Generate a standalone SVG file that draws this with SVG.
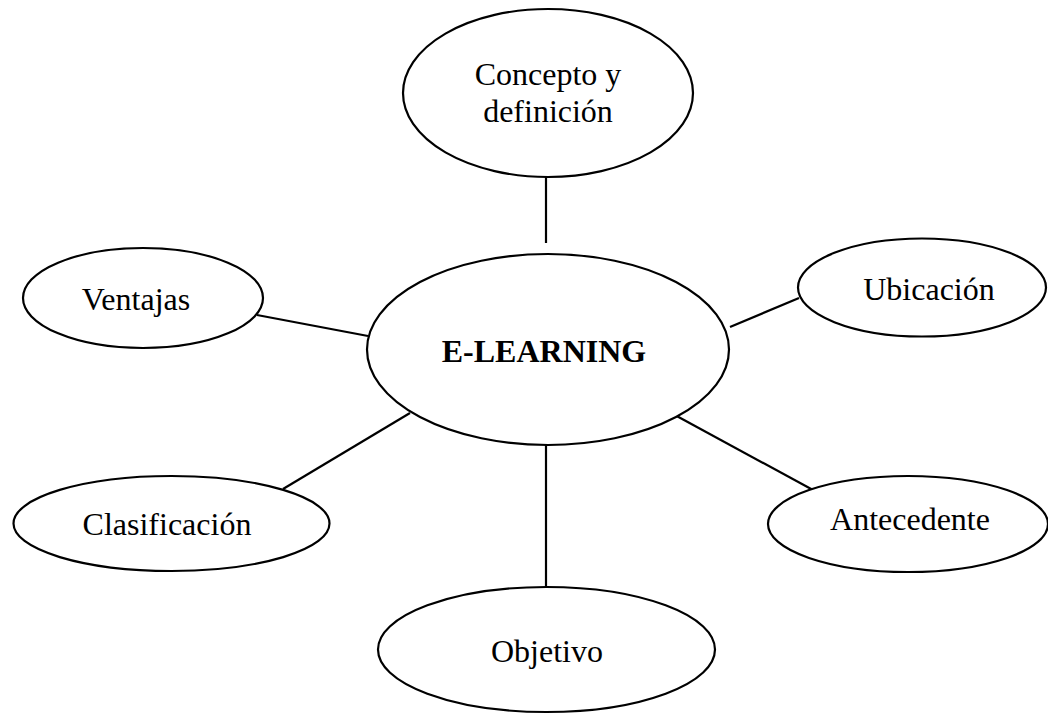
<svg xmlns="http://www.w3.org/2000/svg" width="1048" height="714" viewBox="0 0 1048 714">
<style>
.n{fill:#fff;stroke:#000;stroke-width:2.2}
.c line{stroke:#000;stroke-width:2.2}
.t{font-family:"Liberation Serif","Times New Roman",serif;font-size:32px;fill:#000;text-anchor:middle}
.b{font-weight:bold}
</style>
<rect width="1048" height="714" fill="#fff"/>
<g id="connectors" class="c">
<line x1="546" y1="177" x2="546" y2="243"/>
<line x1="257" y1="315" x2="368" y2="336"/>
<line x1="730" y1="327" x2="799" y2="298"/>
<line x1="410" y1="413" x2="283" y2="489"/>
<line x1="673" y1="414" x2="813" y2="490"/>
<line x1="546" y1="445" x2="546" y2="587"/>
</g>
<g id="concepto">
<ellipse class="n" cx="548" cy="93" rx="145" ry="84"/>
<text class="t" x="548" y="85">Concepto y</text>
<text class="t" x="548" y="122">definición</text>
</g>
<g id="elearning">
<ellipse class="n" cx="548" cy="349.5" rx="181" ry="95.5"/>
<text class="t b" x="544" y="362">E-LEARNING</text>
</g>
<g id="ventajas">
<ellipse class="n" cx="143" cy="298" rx="120" ry="50"/>
<text class="t" x="136" y="310">Ventajas</text>
</g>
<g id="ubicacion">
<ellipse class="n" cx="922" cy="287.5" rx="124" ry="49"/>
<text class="t" x="929" y="300">Ubicación</text>
</g>
<g id="clasificacion">
<ellipse class="n" cx="171.5" cy="523.5" rx="158" ry="47.5"/>
<text class="t" x="167" y="535">Clasificación</text>
</g>
<g id="antecedente">
<ellipse class="n" cx="908" cy="524" rx="140" ry="48"/>
<text class="t" x="910" y="530">Antecedente</text>
</g>
<g id="objetivo">
<ellipse class="n" cx="546.5" cy="649.5" rx="168.5" ry="62.5"/>
<text class="t" x="547" y="662">Objetivo</text>
</g>
</svg>
